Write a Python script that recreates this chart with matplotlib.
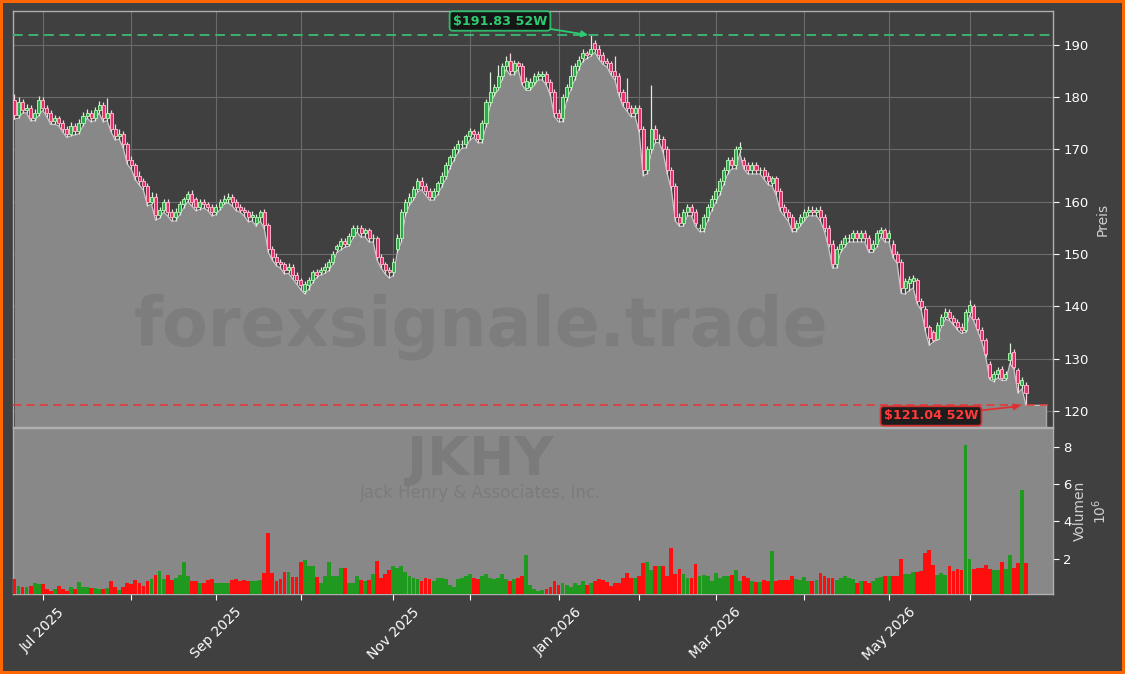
import matplotlib
matplotlib.use("Agg")
import matplotlib.pyplot as plt
import matplotlib.ticker as mticker
import numpy as np
import pandas as pd

# ---------------- data ----------------
start_date = "2025-06-20"
end_date = "2026-06-22"
market_holidays = ["2025-07-04", "2025-09-01", "2025-11-27", "2025-12-25", "2026-01-01",
                   "2026-01-19", "2026-02-16", "2026-04-03", "2026-05-25", "2026-06-19"]

opens = [
    179.5,
    176.6,179.0,177.5,178.0, 176.0,177.0,179.5,178.0,177.0, 175.5,176.0,175.0,174.0,173.0,
    174.5,173.5,175.0,176.5,177.0, 176.0,177.5,178.5,176.0,177.0, 174.0,172.5,173.0,171.0,168.0,
    167.0,165.0,164.0,163.0,160.0, 161.0,157.5,158.5,160.0,158.0, 157.0,158.0,159.5,160.5,161.5,
    160.5,159.0,160.0,159.5, 159.0,158.0,159.0,160.0,160.5, 161.0,160.0,159.0,158.5,158.0,
    157.0,156.0,157.0,158.0, 155.5,151.0,149.5,148.5,148.0, 147.0,147.5,146.0,145.0,143.0,
    144.0,145.0,146.5,146.5,147.0, 147.5,148.5,151.0,151.5, 152.5,152.0,153.5,155.0,155.0,
    154.0,154.5,153.0,153.0,149.5, 148.0,147.0,146.5,151.0, 153.0,158.0,160.0,161.0,162.5,
    164.0,163.0,162.0,161.0,162.0, 163.5,165.0,167.0,168.5,170.0, 171.0,171.0,172.5,173.5,173.0,
    172.0,175.0,179.0,181.0,182.0, 184.0,186.0,187.0,185.0,186.5, 186.0,181.8,182.0,183.0,184.0,
    184.0,184.5,183.0,181.0, 177.0,176.0,180.0,182.0,184.0, 186.0,187.5,188.5,188.2,190.4,
    189.3,188.0,187.0,186.5,185.0, 184.0,181.0,179.0,178.0,177.0, 178.0,174.0,166.0,170.0,174.0,
    172.0,172.0,170.0,166.0,163.0, 157.0,156.0,158.0,159.0,158.0, 155.0,155.0,157.0,159.0,
    160.5,162.0,164.0,166.0,168.0, 167.0,170.0,168.0,167.0, 166.0,167.0,166.0,166.0,165.0,
    163.5,164.5,162.0,159.0,158.0, 157.0,155.0,156.0,157.0,158.0, 158.5,158.0,158.5,157.0,155.0,
    152.0,148.0,151.0,152.0, 153.0,153.0,154.0,153.0,154.0, 153.0,151.0,152.0,154.0,154.5,
    153.0,
    152.0,150.0,148.5,143.5,144.5,144.8,145.0,141.0,139.5,136.0,
    135.0,133.8,136.5,138.0,139.0,137.8,137.0,136.0,135.5,139.0,
    140.0,137.5,135.5,133.5,129.0,126.0,127.0,128.0,126.3,129.7,
    131.3,127.8,125.0,125.0,
]
highs = [
    180.6,
    180.0,179.6,178.8,178.5, 177.8,180.2,180.0,178.6,177.5, 176.6,176.5,175.6,174.5,175.2,
    175.0,175.8,177.2,177.8,177.6, 178.2,179.2,179.0,179.8,177.5, 174.8,174.0,173.5,171.5,168.8,
    167.5,165.8,164.6,163.5,161.8, 161.6,159.0,160.6,160.6,158.6, 158.8,160.2,161.0,162.0,162.2,
    161.0,160.5,160.5,160.0, 159.5,159.6,160.6,161.2,161.6, 161.5,160.5,159.5,159.0,158.5,
    158.2,157.6,158.5,158.6, 156.0,151.5,150.2,149.0,148.5, 148.2,148.0,146.5,145.5,144.8,
    145.6,147.0,147.2,147.6,148.2, 149.0,150.5,152.0,153.0, 153.0,154.0,155.6,155.6,155.5,
    155.0,155.0,153.8,153.5,150.0, 148.5,147.6,149.2,153.8, 158.6,160.6,161.6,163.0,164.6,
    164.8,163.5,162.6,162.6,164.0, 165.6,167.6,169.0,170.6,171.8, 171.8,173.0,174.2,174.0,173.5,
    175.6,179.6,184.8,182.6,186.2, 186.6,187.8,188.4,187.2,187.0, 186.5,183.8,183.6,184.6,185.0,
    185.0,185.0,183.5,181.5, 177.8,180.6,182.6,186.2,186.6, 187.8,189.2,188.8,191.83,191.0,
    190.0,188.6,187.6,187.0,187.8, 184.6,181.6,183.7,178.6,178.6, 178.6,174.5,170.6,182.3,174.6,
    173.0,172.6,170.6,166.6,163.6, 157.8,158.6,159.6,159.6,158.6, 155.8,157.6,159.6,161.2,
    162.6,164.6,166.6,168.6,168.6, 170.6,171.5,168.6,167.6, 167.6,167.6,166.6,166.6,165.6,
    165.0,165.0,162.6,159.6,158.6, 157.6,156.6,157.6,158.6,159.2, 159.2,159.0,159.2,157.6,155.6,
    152.6,151.6,152.6,153.6, 153.8,154.6,154.6,154.6,154.6, 153.6,152.6,154.6,155.2,155.0,
    154.6,
    152.6,150.6,149.0,145.5,145.8,146.0,145.4,141.6,140.0,136.5,
    135.5,137.0,138.6,139.6,139.5,138.4,137.6,136.8,139.5,141.2,
    140.5,138.0,136.0,134.0,129.6,127.6,128.4,128.6,127.6,133.0,
    131.8,128.2,126.5,125.6,
]
lows = [
    175.8,
    176.0,177.0,177.0,175.5, 175.5,176.5,177.5,176.3,174.8, 174.8,174.5,173.3,172.3,172.6,
    172.8,173.0,174.5,176.0,175.3, 175.5,177.0,175.3,175.5,173.3, 171.8,172.0,170.2,167.2,166.2,
    164.2,163.2,162.2,159.2,159.5, 156.5,156.8,158.0,157.3,156.3, 156.3,157.5,158.8,160.0,159.2,
    158.3,158.5,158.8,158.3, 157.3,157.5,158.5,159.5,159.8, 159.2,158.3,158.0,157.3,156.2,
    156.3,155.3,156.3,154.8, 150.3,148.8,147.8,147.3,146.2, 146.3,145.3,144.3,143.2,142.4,
    143.2,144.5,145.5,146.0,146.3, 146.8,148.0,150.3,150.8, 151.3,151.5,153.0,154.2,153.2,
    153.3,152.3,152.3,148.8,147.3, 146.2,145.4,145.8,150.3, 152.3,157.3,159.3,160.3,161.8,
    162.3,161.3,160.3,160.3,161.3, 162.8,164.3,166.3,167.8,169.3, 170.2,170.3,171.8,172.3,171.3,
    171.3,174.3,178.3,180.3,181.3, 183.3,185.3,184.3,184.3,185.3, 182.3,181.3,181.3,182.3,183.3,
    183.3,182.3,180.3,176.3, 175.3,175.3,179.3,181.3,183.3, 185.3,186.8,187.4,187.8,188.6,
    187.3,186.3,185.8,184.3,183.3, 180.3,178.3,177.3,176.3,176.3, 173.3,165.0,165.3,169.3,171.3,
    171.3,169.3,165.3,162.3,156.3, 155.3,155.3,157.3,157.3,155.3, 154.3,154.3,156.3,158.3,
    159.8,161.3,163.3,165.3,166.3, 166.3,169.3,166.3,165.3, 165.3,165.3,165.3,164.3,163.3,
    163.0,161.3,158.3,157.3,156.3, 154.3,154.3,155.3,156.3,157.3, 157.3,157.3,156.3,154.3,151.3,
    147.3,147.3,150.3,151.3, 152.3,152.3,152.3,152.3,152.3, 150.3,150.3,151.3,153.3,152.3,
    152.3,
    149.3,148.3,142.5,142.3,143.0,143.5,140.5,139.3,135.3,132.5,
    133.2,133.5,136.0,137.5,137.3,136.5,135.5,134.8,135.0,138.3,
    137.3,135.3,133.3,130.3,126.0,125.6,126.3,125.8,125.8,129.0,
    128.0,123.4,124.2,121.04,
]
closes = [
    176.6,
    179.0,177.5,178.0,176.0, 177.0,179.5,178.0,177.0,175.5, 176.0,175.0,174.0,173.0,174.5,
    173.5,175.0,176.5,177.0,176.0, 177.5,178.5,176.0,177.0,174.0, 172.5,173.0,171.0,168.0,167.0,
    165.0,164.0,163.0,160.0,161.0, 157.5,158.5,160.0,158.0,157.0, 158.0,159.5,160.5,161.5,160.0,
    159.0,160.0,159.5,159.0, 158.0,159.0,160.0,160.5,161.0, 160.0,159.0,158.5,158.0,157.0,
    157.5,157.0,158.0,155.5, 151.0,149.5,148.5,148.0,147.0, 147.5,146.0,145.0,144.0,144.2,
    145.0,146.5,146.0,147.0,147.5, 148.5,150.0,151.5,152.5, 152.0,153.5,155.0,155.0,154.0,
    154.5,153.0,153.0,149.5,148.0, 147.0,146.5,148.5,153.0, 158.0,160.0,161.0,162.5,164.0,
    163.0,162.0,161.0,162.0,163.5, 165.0,167.0,168.5,170.0,171.0, 171.0,172.5,173.5,173.0,172.0,
    175.0,179.0,181.0,182.0,184.0, 186.0,187.0,185.0,186.5,186.0, 183.0,183.2,183.0,184.0,184.5,
    184.5,183.0,181.0,177.0, 176.0,180.0,182.0,184.0,186.0, 187.2,188.5,188.0,189.2,189.3,
    188.0,187.0,186.5,185.0,184.0, 181.0,179.0,178.0,177.0,178.0, 174.0,166.0,170.0,174.0,172.0,
    172.0,170.0,166.0,163.0,157.0, 156.0,158.0,159.0,158.0,156.0, 155.0,157.0,159.0,160.5,
    162.0,164.0,166.0,168.0,167.0, 170.0,170.5,167.0,166.0, 167.0,166.0,166.0,165.0,164.0,
    164.5,162.0,159.0,158.0,157.0, 155.0,156.0,157.0,158.0,158.5, 158.0,158.5,157.0,155.0,152.0,
    148.0,151.0,152.0,153.0, 153.0,154.0,153.0,154.0,153.0, 151.0,152.0,154.0,154.5,153.0,
    154.0,
    150.0,148.5,143.5,144.8,145.2,145.5,141.0,139.8,136.0,134.0,
    133.6,136.5,138.0,139.0,137.8,137.0,136.0,135.5,139.0,140.2,
    137.6,135.6,133.6,130.8,126.5,127.0,127.8,126.2,127.0,131.0,
    128.4,125.4,125.8,123.5,
]
volumes_m = [
    0.93,0.55,0.50,0.50,0.55,0.73,0.64,0.66,0.40,0.28,
    0.38,0.55,0.38,0.27,0.50,0.38,0.77,0.50,0.50,0.46,
    0.46,0.38,0.38,0.45,0.82,0.50,0.35,0.50,0.70,0.66,
    0.86,0.70,0.55,0.84,0.91,1.14,1.36,0.93,1.16,0.86,
    1.00,1.16,1.84,1.09,0.84,0.84,0.70,0.70,0.86,0.93,
    0.71,0.71,0.70,0.70,0.86,0.93,0.80,0.86,0.80,0.80,
    0.80,0.85,1.27,3.40,1.27,0.84,0.93,1.32,1.30,1.05,
    1.05,1.82,1.95,1.60,1.60,1.05,0.73,1.10,1.82,1.10,
    1.10,1.50,1.50,0.70,0.70,1.10,0.86,0.80,0.86,1.20,
    1.90,1.00,1.20,1.40,1.60,1.50,1.60,1.30,1.10,1.00,
    0.90,0.80,1.00,0.90,0.80,1.00,1.00,0.90,0.60,0.50,
    0.90,1.00,1.10,1.20,1.00,0.90,1.10,1.20,1.00,0.90,
    1.00,1.20,0.90,0.80,0.90,1.00,1.10,2.20,0.60,0.40,
    0.30,0.35,0.40,0.50,0.80,0.60,0.70,0.60,0.50,0.70,
    0.60,0.80,0.60,0.70,0.80,0.90,0.87,0.75,0.57,0.73,
    0.73,0.95,1.25,0.95,0.95,1.10,1.80,1.84,1.40,1.60,
    1.64,1.64,1.10,2.60,1.20,1.45,1.20,0.95,0.95,1.70,
    1.10,1.15,1.10,0.80,1.25,0.95,1.10,1.10,1.15,1.43,
    0.80,1.10,0.95,0.80,0.75,0.75,0.87,0.80,2.40,0.80,
    0.87,0.85,0.85,1.10,0.90,0.87,1.05,0.80,0.80,0.87,
    1.25,1.10,0.95,0.95,0.87,0.95,1.10,0.95,0.90,0.73,
    0.80,0.80,0.70,0.80,0.95,1.05,1.10,1.10,1.10,1.10,
    2.00,1.20,1.20,1.30,1.30,1.35,2.30,2.50,1.67,1.15,
    1.25,1.15,1.64,1.35,1.45,1.40,8.10,2.00,1.45,1.50,
    1.50,1.65,1.45,1.40,1.40,1.85,1.45,2.20,1.50,1.80,
    5.70,1.80,
]

high_52w = 191.83
low_52w = 121.04

# ---------------- prepare ----------------
dates = pd.bdate_range(start_date, end_date)
dates = dates[~dates.isin(pd.to_datetime(market_holidays))]
o = np.array(opens); h = np.array(highs); l = np.array(lows); c = np.array(closes)
v = np.array(volumes_m)
n = min(len(dates), len(o), len(h), len(l), len(c), len(v))
dates = dates[:n]; o = o[:n]; h = h[:n]; l = l[:n]; c = c[:n]; v = v[:n]
x = np.arange(n)

# month ticks at first trading day of each month
month_first = [i for i in range(1, n) if dates[i].month != dates[i - 1].month]
month_labels = [dates[i].strftime("%b %Y") if dates[i].month % 2 == 1 else "" for i in month_first]

# ---------------- figure ----------------
BG = "#404040"
FILL = "#888888"
fig = plt.figure(figsize=(11.25, 6.74), dpi=100, facecolor=BG)
fig.patch.set_edgecolor("#ff6600")
fig.patch.set_linewidth(4.3)

L, W = 13/1125, 1040/1125
ax = fig.add_axes([L, 1-427/674, W, 416/674])
axv = fig.add_axes([L, 1-594/674, W, 166/674], sharex=ax)
ax.set_facecolor(BG)
axv.set_facecolor(FILL)

ymin, ymax = 116.9, 196.5
ax.set_ylim(ymin, ymax)

# area under the lows
x_ext = np.append(x, x[-1] + 5)
l_ext = np.append(l, l[-1])
ax.fill_between(x_ext, l_ext, ymin, color=FILL, zorder=1, linewidth=0)
ax.plot(x_ext, l_ext, color="#c8c8c8", lw=0.9, zorder=2)
ax.plot([x_ext[-1], x_ext[-1]], [ymin, l_ext[-1]], color="#a8a8a8", lw=1.0, zorder=2)

# watermark
ax.text(0.45, 0.24, "forexsignale.trade", transform=ax.transAxes, ha="center", va="center",
        fontsize=48, fontweight="bold", color="black", alpha=0.08, zorder=2.5)

# candles
up = c >= o
body_w = 0.75
wick_col = np.where(up, "#d8f0d8", "#f4d4e0")
ax.vlines(x, l, h, colors=wick_col, lw=0.9, zorder=3)
ax.bar(x[up], (c - o)[up], bottom=o[up], width=body_w, color="#2fa84f",
       edgecolor="#a8f0a8", linewidth=0.7, zorder=4)
ax.bar(x[~up], (o - c)[~up], bottom=c[~up], width=body_w, color="#e8306a",
       edgecolor="#ffb0c8", linewidth=0.7, zorder=4)

# 52w lines
ax.axhline(high_52w, color="#3cb371", lw=1.4, ls=(0, (5, 3)), zorder=5)
ax.axhline(low_52w, color="#e03a3a", lw=1.2, ls=(0, (5, 3)), zorder=5)

i_hi = int(np.argmax(h)); i_lo = int(np.argmin(l))
ax.annotate(f"${high_52w:.2f} 52W", xy=(x[i_hi], high_52w), xycoords="data",
            xytext=(500/1125, 1-21/674), textcoords="figure fraction",
            ha="center", va="center", fontsize=9.2, fontweight="bold", color="#2ecc71",
            bbox=dict(boxstyle="round,pad=0.25", fc="#111111", ec="#2ecc71", lw=1.3, alpha=0.9),
            arrowprops=dict(arrowstyle="-|>", color="#2ecc71", lw=1.3, shrinkA=0, shrinkB=2),
            zorder=7)
ax.annotate(f"${low_52w:.2f} 52W", xy=(x[i_lo], low_52w), xycoords="data",
            xytext=(931/1125, 1-416/674), textcoords="figure fraction",
            ha="center", va="center", fontsize=9.2, fontweight="bold", color="#ff3b3b",
            bbox=dict(boxstyle="round,pad=0.25", fc="#111111", ec="#e03030", lw=1.3, alpha=0.9),
            arrowprops=dict(arrowstyle="-|>", color="#e03030", lw=1.3, shrinkA=0, shrinkB=4),
            zorder=7)

# grid & axes styling
ax.yaxis.set_major_locator(mticker.MultipleLocator(10))
ax.grid(True, color="#6a6a6a", lw=0.8, zorder=0)
ax.set_axisbelow(True)
for a in (ax, axv):
    for s in a.spines.values():
        s.set_color("#b0b0b0")
        s.set_linewidth(1.0)
    a.yaxis.tick_right()
    a.yaxis.set_label_position("right")
    a.tick_params(axis="y", colors="white", labelsize=9.5, length=4)
ax.tick_params(axis="x", which="both", bottom=False, labelbottom=False)
ax.set_ylabel("Preis", color="#d0d0d0", fontsize=10, labelpad=5)

# volume
vcol = np.where(up, "#1f9a1f", "#ff0e0e")
axv.bar(x, v, width=0.95, color=vcol, linewidth=0, zorder=3)
axv.set_ylim(0.12, 9.0)
axv.yaxis.set_major_locator(mticker.FixedLocator([2, 4, 6, 8]))
axv.set_ylabel("Volumen\n$10^6$", color="#d0d0d0", fontsize=10, labelpad=1)

axv.set_xlim(-0.37, 257.7)
axv.set_xticks(month_first)
axv.set_xticklabels(month_labels, rotation=45, ha="center")
axv.tick_params(axis="x", colors="white", labelsize=10, length=4, pad=4)

fig.text(480/1125, 1-460/674, "JKHY", ha="center", va="center", fontsize=39,
         fontweight="bold", color="black", alpha=0.09)
fig.text(480/1125, 1-493/674, "Jack Henry & Associates, Inc.", ha="center", va="center",
         fontsize=12, color="black", alpha=0.09)

fig.savefig("out.png", dpi=100, facecolor=fig.get_facecolor(), edgecolor=fig.patch.get_edgecolor())
